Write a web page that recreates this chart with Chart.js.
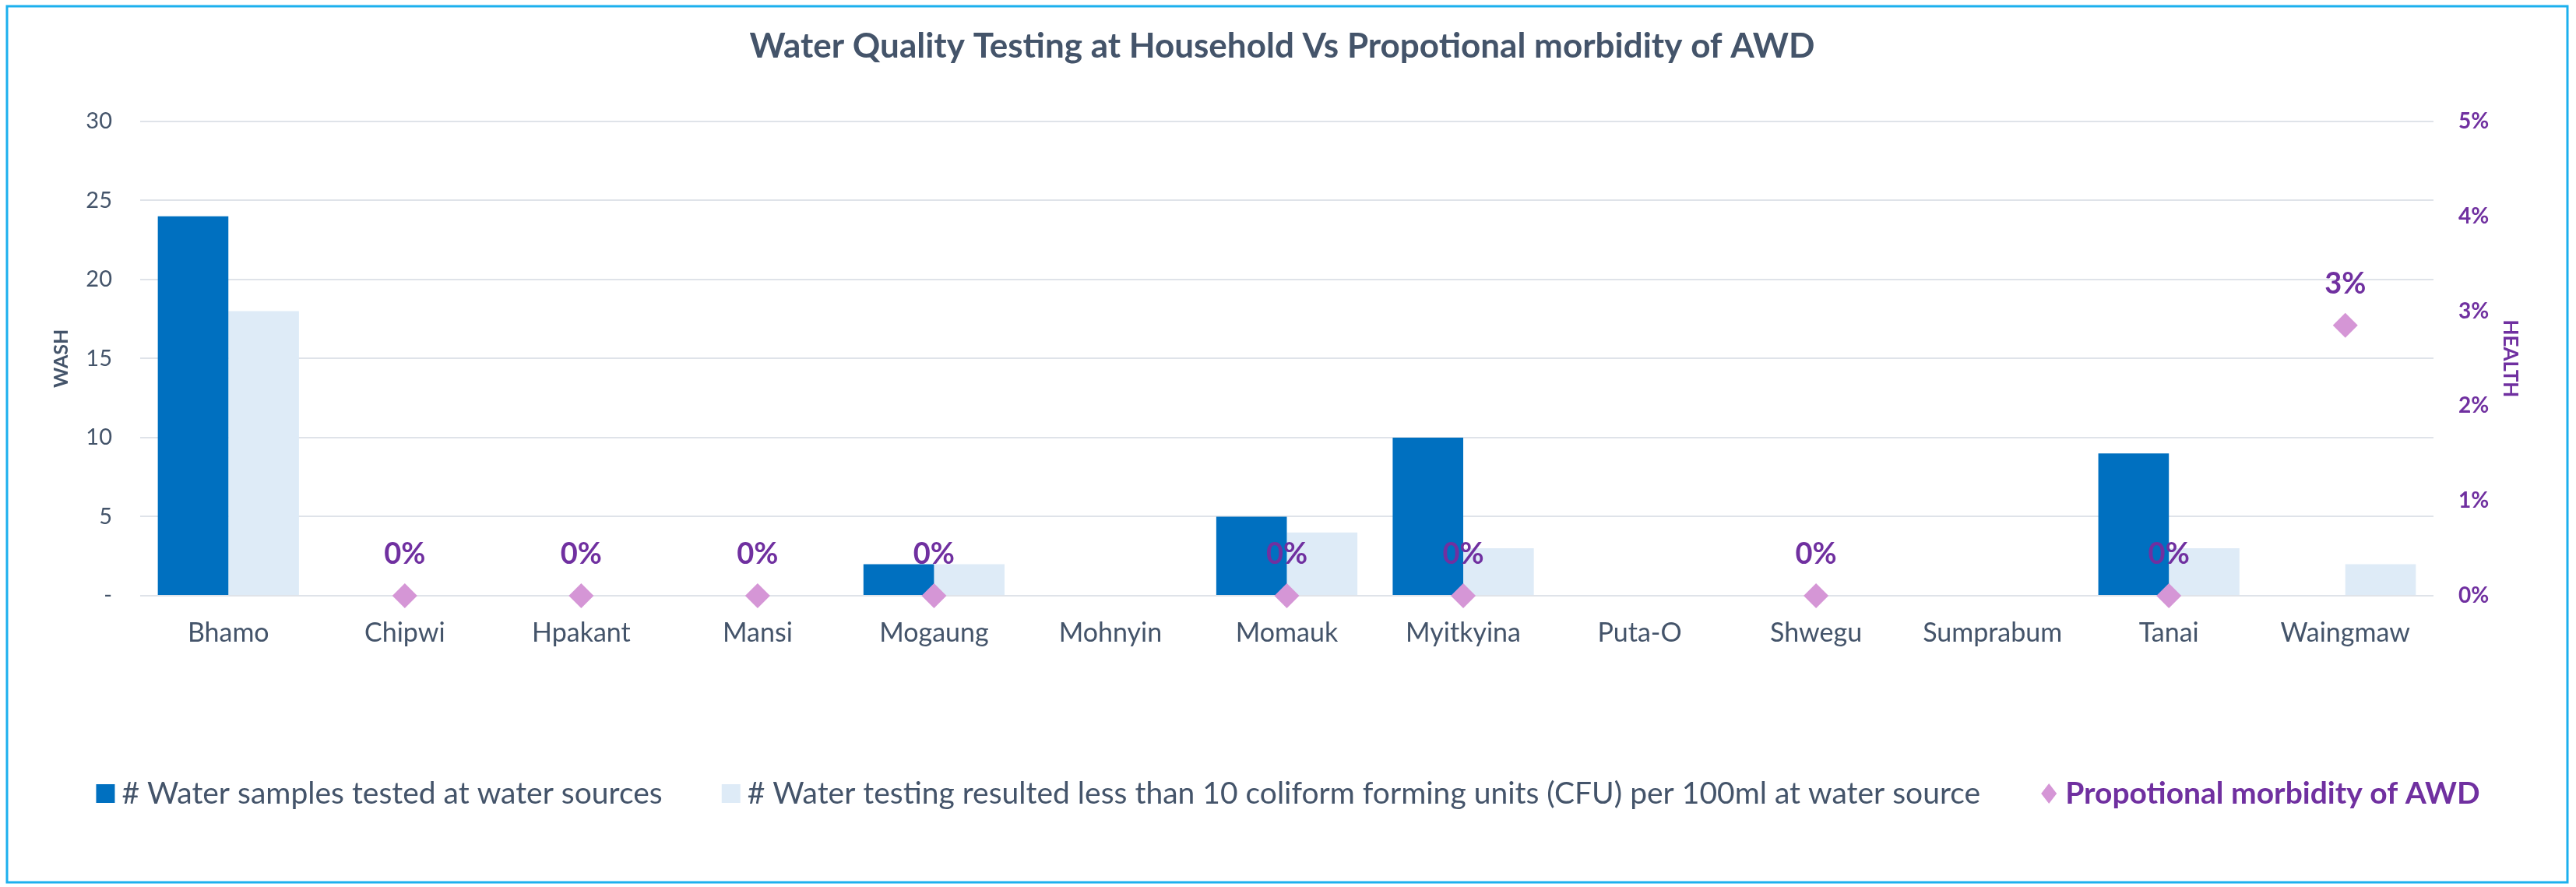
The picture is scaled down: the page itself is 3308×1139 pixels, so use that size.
<!DOCTYPE html>
<html>
<head>
<meta charset="utf-8">
<script src="https://cdn.jsdelivr.net/npm/chart.js@4.4.1/dist/chart.umd.min.js"></script>
<style>
  html, body { margin: 0; padding: 0; background: #ffffff; }
</style>
</head>
<body>
<canvas id="awd" width="3308" height="1139"></canvas>
<script>
// districts on the x axis
const districts = ['Bhamo', 'Chipwi', 'Hpakant', 'Mansi', 'Mogaung', 'Mohnyin', 'Momauk',
	'Myitkyina', 'Puta-O', 'Shwegu', 'Sumprabum', 'Tanai', 'Waingmaw'];
// WASH (left axis)
const samplesTested = [24, 0, 0, 0, 2, 0, 5, 10, 0, 0, 0, 9, 0];
const samplesUnder10Cfu = [18, 0, 0, 0, 2, 0, 4, 3, 0, 0, 0, 3, 2];
// HEALTH (right axis), null = no report
const awdMorbidity = [null, 0, 0, 0, 0, null, 0, 0, null, 0, null, 0, 0.0285];

const slate = '#44546A';
const purple = '#7030A0';
const darkBlue = '#0070C0';
const lightBlue = '#DEEBF7';
const pink = '#D596D6';

Chart.defaults.font.family = 'Lato';
Chart.defaults.color = slate;

// frame round the whole picture
const frame = {
	id: 'frame',
	beforeDraw(chart) {
		const ctx = chart.ctx;
		ctx.save();
		ctx.fillStyle = '#ffffff';
		ctx.fillRect(0, 0, chart.width, chart.height);
		ctx.strokeStyle = '#1CB0EE';
		ctx.lineWidth = 3;
		ctx.strokeRect(9, 8, 3288, 1125);
		ctx.restore();
	}
};

// percent labels above the diamonds
const pointLabels = {
	id: 'pointLabels',
	afterDatasetsDraw(chart) {
		const ctx = chart.ctx;
		const meta = chart.getDatasetMeta(2);
		const data = chart.data.datasets[2].data;
		ctx.save();
		ctx.font = 'bold 38px Lato';
		ctx.fillStyle = purple;
		ctx.textAlign = 'center';
		ctx.textBaseline = 'middle';
		meta.data.forEach(function(pt, i) {
			if (data[i] === null) return;
			ctx.fillText(Math.round(data[i] * 100) + '%', pt.x, pt.y - 53);
		});
		ctx.restore();
	}
};

// legend row at the bottom (third entry is bold purple)
const legendRow = {
	id: 'legendRow',
	afterDraw(chart) {
		const ctx = chart.ctx;
		const sets = chart.data.datasets;
		const items = [
			{ text: sets[0].label, color: sets[0].backgroundColor, shape: 'box', font: '39px Lato', textColor: slate },
			{ text: sets[1].label, color: sets[1].backgroundColor, shape: 'box', font: '39px Lato', textColor: slate },
			{ text: sets[2].label, color: sets[2].backgroundColor, shape: 'diamond', font: 'bold 39px Lato', textColor: purple }
		];
		const marker = 24, gap = 9, spacing = 76, y = 1019;
		ctx.save();
		let total = 0;
		items.forEach(function(it) {
			ctx.font = it.font;
			it.w = ctx.measureText(it.text).width;
			total += marker + gap + it.w;
		});
		total += spacing * (items.length - 1);
		let x = chart.width / 2 - total / 2;
		ctx.textBaseline = 'middle';
		items.forEach(function(it) {
			ctx.fillStyle = it.color;
			if (it.shape === 'box') {
				ctx.fillRect(x, y - 12, marker, marker);
			} else {
				ctx.beginPath();
				ctx.moveTo(x + 12, y - 13);
				ctx.lineTo(x + 22, y);
				ctx.lineTo(x + 12, y + 13);
				ctx.lineTo(x + 2, y);
				ctx.closePath();
				ctx.fill();
			}
			x += marker + gap;
			ctx.font = it.font;
			ctx.fillStyle = it.textColor;
			ctx.textAlign = 'left';
			ctx.fillText(it.text, x, y);
			x += it.w + spacing;
		});
		ctx.restore();
	}
};

const data_awd = {
	labels: districts,
	datasets: [
		{
			type: 'bar',
			label: '# Water samples tested at water sources',
			data: samplesTested,
			backgroundColor: darkBlue,
			borderWidth: 0,
			yAxisID: 'y',
			order: 2,
			categoryPercentage: 0.8,
			barPercentage: 1.0
		},
		{
			type: 'bar',
			label: '# Water testing resulted less than 10 coliform forming units (CFU) per 100ml at water source',
			data: samplesUnder10Cfu,
			backgroundColor: lightBlue,
			borderWidth: 0,
			yAxisID: 'y',
			order: 3,
			categoryPercentage: 0.8,
			barPercentage: 1.0
		},
		{
			type: 'line',
			label: 'Propotional morbidity of AWD',
			data: awdMorbidity,
			showLine: false,
			pointStyle: 'rectRot',
			pointRadius: 16,
			pointHoverRadius: 16,
			pointBorderWidth: 0,
			backgroundColor: pink,
			borderColor: pink,
			yAxisID: 'y1',
			order: 0,
			clip: false
		}
	]
};

const config_awd = {
	data: data_awd,
	plugins: [frame, pointLabels, legendRow],
	options: {
		responsive: false,
		animation: false,
		layout: {
			padding: { top: 0, left: 50, right: 65, bottom: 294 }
		},
		plugins: {
			legend: { display: false },
			tooltip: { enabled: false },
			title: {
				display: true,
				text: 'Water Quality Testing at Household Vs Propotional morbidity of AWD',
				color: slate,
				font: { size: 44, weight: 'bold' },
				padding: { top: 33, bottom: 70 }
			}
		},
		scales: {
			x: {
				grid: { display: false, drawTicks: false },
				border: { display: false },
				ticks: {
					color: slate,
					font: { size: 34 },
					padding: 28,
					maxRotation: 0,
					autoSkip: false
				},
				afterFit: function(scale) { scale.height = 80; }
			},
			y: {
				position: 'left',
				min: 0,
				max: 30,
				grid: { color: '#DFE3E9', lineWidth: 2, drawTicks: false },
				border: { display: false },
				ticks: {
					stepSize: 5,
					color: slate,
					font: { size: 29 },
					padding: 36,
					callback: function(value) { return value === 0 ? '-' : value; }
				},
				title: {
					display: true,
					text: 'WASH',
					color: slate,
					font: { size: 25, weight: 'bold' },
					padding: { top: 14, bottom: 0 }
				},
				afterFit: function(scale) { scale.width = 130; }
			},
			y1: {
				position: 'right',
				min: 0,
				max: 0.05,
				grid: { display: false, drawTicks: false },
				border: { display: false },
				ticks: {
					stepSize: 0.01,
					color: purple,
					font: { size: 28, weight: 'bold' },
					padding: 32,
					callback: function(value) { return Math.round(value * 100) + '%'; }
				},
				title: {
					display: true,
					text: 'HEALTH',
					color: purple,
					font: { size: 26, weight: 'bold' },
					padding: { top: 4, bottom: 0 }
				},
				afterFit: function(scale) { scale.width = 118; }
			}
		}
	}
};

const awd = new Chart(
	document.getElementById('awd'),
	config_awd
);
</script>
</body>
</html>
